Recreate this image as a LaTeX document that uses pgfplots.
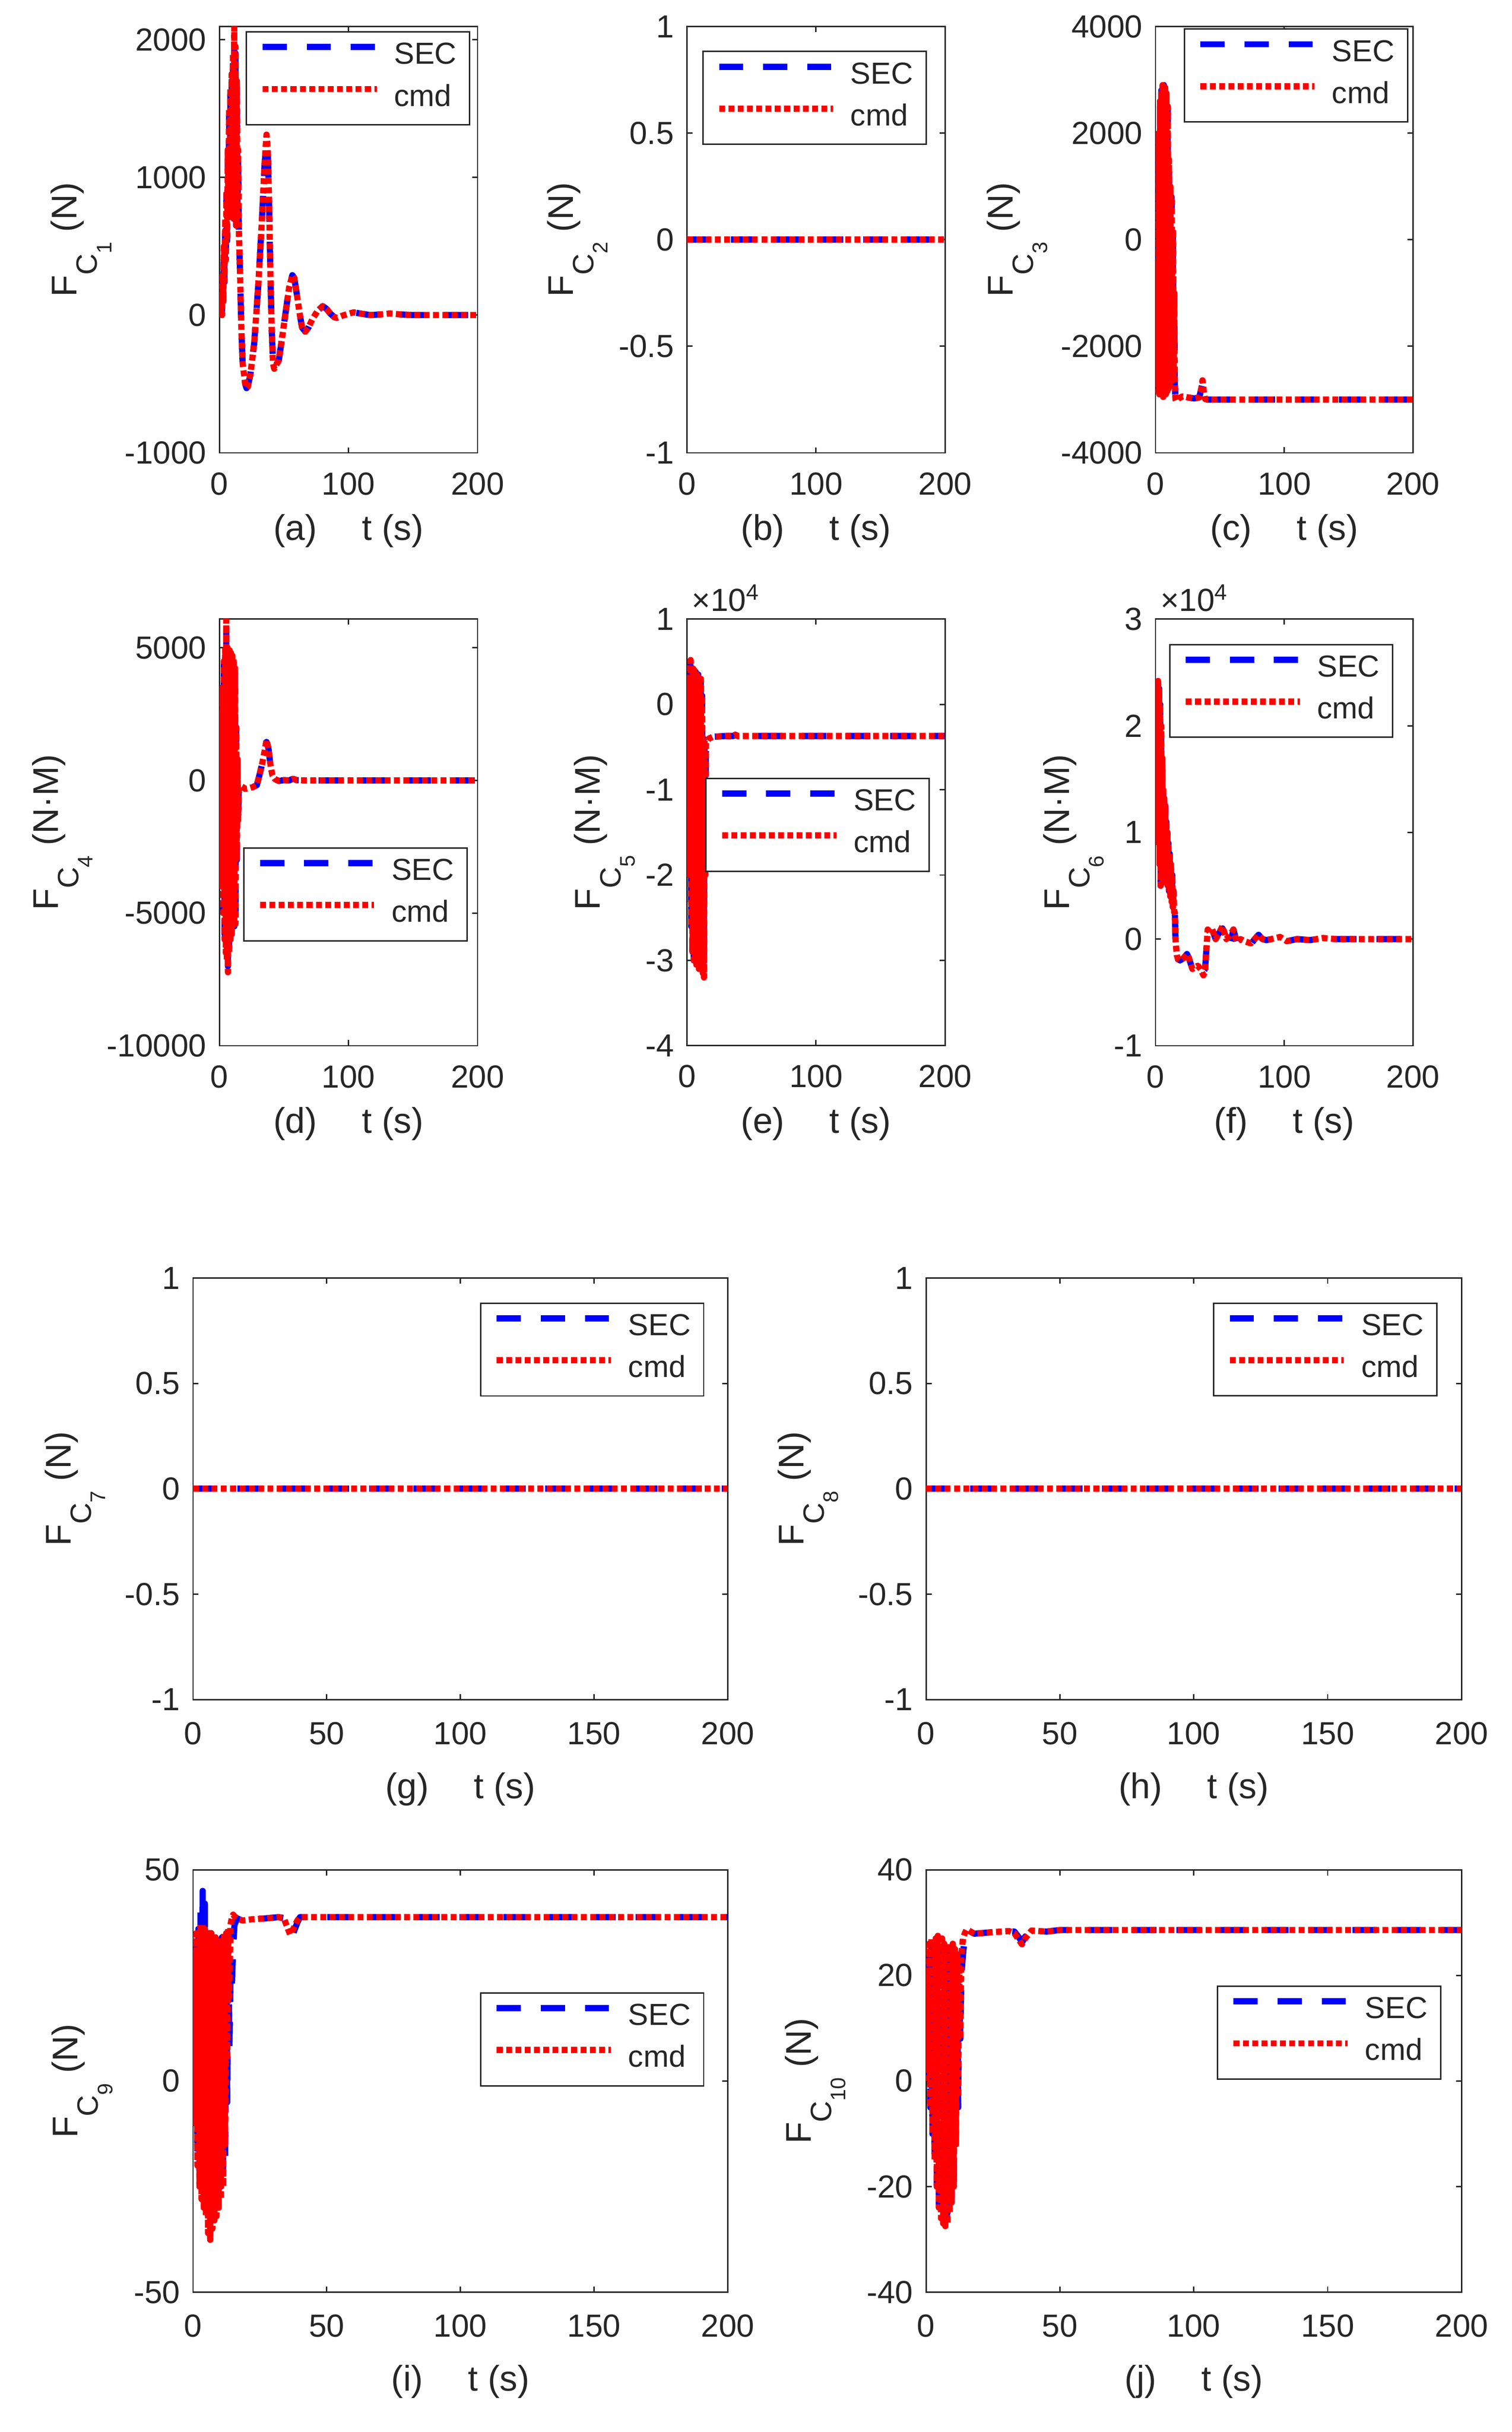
\documentclass[border=0pt]{standalone}
\usepackage{fontspec}
\setmainfont{Liberation Sans}
\usepackage{pgfplots}
\pgfplotsset{compat=1.18}
\usepackage{pgfplotstable}
\definecolor{axc}{rgb}{0.15,0.15,0.15}
\newcommand{\Fsub}[1]{F\raisebox{-6.6pt}{\fontsize{9.5}{9.5}\selectfont C\raisebox{-4.6pt}{\fontsize{6.8}{7}\selectfont #1}}}

\pgfplotstableread{
t sec cmd
0 0 0
0.5 60 80
1 20 20
1.5 140 150
2 10 0
2.5 280 300
3 100 100
3.5 480 500
4 240 250
4.5 680 700
5 380 400
5.5 880 900
6 540 550
6.5 1150 1200
7 690 700
7.5 1450 1500
8 880 900
8.5 1600 1650
9 800 800
9.5 1700 1750
10 900 900
10.5 1850 1900
11 700 700
11.5 1950 2090
12 800 800
12.5 1900 1950
13 650 650
13.5 1650 1700
14 700 700
14.5 1150 1200
15 650 650
16 300 300
17 -100 -100
18 -350 -350
20 -500 -500
21 -530 -530
22 -520 -520
24 -430 -430
27 -200 -200
30 200 200
33 700 700
35 1100 1100
36.5 1250 1310
37.5 1180 1200
38.5 800 800
39.5 300 300
40.5 -100 -100
41.5 -330 -350
42.5 -390 -390
44 -360 -360
46 -330 -330
48 -200 -200
51 0 0
54 200 200
56.5 290 290
58 270 270
60 150 150
62 20 20
64 -90 -90
66.5 -120 -120
69 -90 -90
72 -30 -30
76 30 30
80 65 65
83 45 45
86 10 10
89 -15 -15
91 -20 -20
95 -5 -5
100 10 10
104 20 20
110 10 10
117 0 0
125 5 5
132 12 12
140 5 5
150 0 0
200 0 0
}\tabA

\pgfplotstableread{
t sec cmd
0 0 0
200 0 0
}\tabZero

\pgfplotstableread{
t sec cmd
0 -2700 -2700
0.5 -500 -500
1 -2800 -2800
1.5 800 800
2 -2850 -2850
2.5 2000 2000
3 -2900 -2900
3.5 2600 2600
4 -2900 -2900
4.5 2800 2800
5 -2900 -2900
5.5 2850 2900
6 -2950 -2950
6.5 2900 2940
7 -2900 -2900
7.5 2850 2850
8 -2900 -2900
8.5 2750 2750
9 -2850 -2850
9.5 2500 2500
10 -2800 -2800
10.5 1500 1500
11 -2800 -2800
11.5 1000 1000
12 -2700 -2700
12.5 800 800
13 -2650 -2650
13.5 200 200
14 -2600 -2600
14.5 -1000 -1000
15 -2700 -2700
15.5 -3000 -3000
16 -3030 -3030
18 -2980 -2980
21 -2940 -2940
25 -2960 -2960
30 -2980 -2980
34 -2960 -2960
35.5 -2800 -2800
36.5 -2700 -2640
37.5 -2850 -2850
38.5 -2990 -2990
40 -3000 -3000
200 -3000 -3000
}\tabC

\pgfplotstableread{
t sec cmd
0 -1000 -1000
0.5 500 500
1 -2500 -2500
1.5 2500 2500
2 -4000 -4000
2.5 3500 3500
3 -5000 -5000
3.5 4500 4500
4 -5800 -6000
4.5 4900 5000
5 -6200 -6500
5.3 5900 6050
5.8 -6600 -6800
6.3 4900 5000
6.6 -7000 -7230
7 4800 4800
7.5 -6300 -6500
8 4900 4900
8.5 -6000 -6000
9 4800 4800
9.5 -5800 -5800
10 4700 4700
10.5 -5600 -5600
11 4600 4600
11.5 -5500 -5500
12 4300 4300
12.5 -5400 -5400
13 2000 2000
13.5 -3000 -3000
14 800 800
14.5 -1500 -1500
15 -400 -400
16 -200 -200
18 -250 -250
20 -320 -320
22.5 -300 -300
26 -250 -250
29 -180 -180
31 200 200
33 600 600
35 1100 1100
36.5 1450 1530
38 1200 1200
39.5 600 600
41 200 200
43 50 50
46 -20 -20
50 10 10
54 0 0
57 60 60
60 10 10
65 0 0
200 0 0
}\tabD

\pgfplotstableread{
t sec cmd
0 -0.5 -0.5
0.5 0.2 0.2
1 -1.2 -1.2
1.5 0.3 0.3
2 -2.0 -2.0
2.5 0.45 0.45
2.9 0.45 0.52
3.3 -2.6 -2.6
3.8 0.4 0.4
4.3 -2.9 -2.9
4.8 0.42 0.42
5.3 -3.0 -3.0
5.8 0.4 0.4
6.3 -3.0 -3.0
6.8 0.38 0.38
7.3 -3.05 -3.05
7.8 0.35 0.35
8.3 -3.05 -3.05
8.8 0.35 0.35
9.3 -3.05 -3.1
9.8 0.32 0.32
10.3 -3.05 -3.1
10.8 0.3 0.3
11.3 -3.05 -3.1
11.8 0.1 0.1
12.3 -3.05 -3.15
12.8 -0.4 -0.4
13.2 -3.05 -3.2
13.7 -0.42 -0.42
14.2 -2.0 -2.0
14.7 -0.45 -0.45
15.5 -0.44 -0.44
17 -0.4 -0.4
20 -0.38 -0.38
30 -0.37 -0.37
36 -0.37 -0.37
37.5 -0.355 -0.355
39 -0.37 -0.37
200 -0.37 -0.37
}\tabE

\pgfplotstableread{
t sec cmd
0 1.2 1.2
0.4 2.2 2.2
0.8 1.0 1.0
1.2 2.35 2.4
1.6 1.0 1.0
2 2.4 2.42
2.4 0.9 0.9
2.8 2.35 2.35
3.2 0.7 0.7
3.6 2.2 2.2
4 0.5 0.5
4.4 2.0 2.0
4.8 0.6 0.6
5.2 1.7 1.7
5.6 0.5 0.5
6 1.4 1.4
6.4 0.6 0.6
6.8 1.32 1.32
7.2 0.5 0.5
7.6 1.25 1.25
8 0.55 0.55
8.4 1.1 1.1
8.8 0.5 0.5
9.2 1.0 1.0
9.6 0.5 0.5
10 0.9 0.9
10.5 0.45 0.45
11 0.8 0.8
11.5 0.4 0.4
12 0.7 0.7
12.5 0.35 0.35
13 0.6 0.6
13.5 0.3 0.3
14 0.45 0.45
14.5 0.25 0.25
15 0.25 0.25
15.5 0.0 0.0
16.5 -0.15 -0.15
17.5 -0.19 -0.19
19 -0.2 -0.2
21.7 -0.18 -0.18
24.4 -0.14 -0.14
26 -0.18 -0.18
28.6 -0.28 -0.28
30 -0.27 -0.27
32.8 -0.25 -0.25
35 -0.28 -0.28
37.2 -0.3 -0.34
38.5 -0.28 -0.3
39.5 -0.1 -0.1
40.5 0.07 0.09
42 0.07 0.07
44 0.09 0.09
46.7 0.0 0.0
49 0.05 0.05
52 0.1 0.12
55 0.0 0.0
58 -0.05 0.04
60.5 0.09 0.09
63 -0.03 -0.03
66 0.0 0.0
69 -0.02 -0.02
74 -0.05 -0.04
77 0.0 0.0
80 0.04 0.04
83 0.0 0.0
86 -0.01 -0.01
90 0.0 0.0
96.7 0.02 0.02
102 -0.02 -0.02
110 0.0 0.0
120 -0.01 -0.01
130 0.01 0.01
140 0 0
200 0 0
}\tabF

\pgfplotstableread{
t sec cmd
0 -8 -5
0.4 30 30
0.8 -10 -10
1.2 35 35
1.6 -18 -20
2 36 36
2.4 -22 -25
2.8 40 37
3.2 -25 -28
3.6 45 37
4 -27 -30
4.4 42 36
4.8 -28 -32
5.2 36 36
5.6 -30 -36
6 35 35
6.4 -31 -37.6
6.8 35 35
7.2 -30 -35
7.6 34 34
8 -29 -33
8.4 34 34
8.8 -28 -32
9.2 33 33
9.6 -27 -30
10 33 33
10.4 -25 -28
10.8 34 34
11.2 -22 -25
11.6 35 35
12 -18 -15
12.4 33 35
12.8 -5 5
13.2 30 36
13.6 8 20
14 25 37
14.5 22 38.5
15 32 39.4
15.5 37 39
16.5 38.5 38.5
18.5 38 38
22 38.3 38.3
27 38.5 38.5
32 38.8 38.8
34 38.6 38.5
35.5 37 36
36.3 35.5 34.7
37.5 35 36
39 37.5 38
40 38.8 38.8
200 38.8 38.8
}\tabI

\pgfplotstableread{
t sec cmd
0 0 0
0.4 18 20
0.8 2 2
1.2 25 26
1.6 -5 -5
2 26 27
2.4 -10 -10
2.8 26 27
3.2 -15 -15
3.6 26 27
4 -20 -20
4.4 26 27.5
4.8 -24 -24
5.2 26 27
5.6 -25 -26
6 26 27
6.4 -25 -27
6.8 25 26
7.2 -26 -27.5
7.6 25 26
8 -25 -27
8.4 25 26
8.8 -24 -25
9.2 25 26
9.6 -22 -23
10 25 26
10.4 -18 -20
10.8 24 25
11.2 -10 -12
11.6 22 24
12 -5 -3
12.4 18 22
12.8 8 8
13.2 20 24
13.8 24 27
14.5 27.5 28
15.2 28.7 28.7
18 27.9 27.9
25 28.2 28.2
31 28.4 28.4
33 28.3 28
35 27 26.5
35.8 26.2 25.9
37 27.3 27
39.4 28.5 28.5
45 28.3 28.3
50 28.6 28.6
200 28.6 28.6
}\tabJ

\pgfplotsset{
  sec/.style={color=blue, line width=2pt, dash pattern=on 7.8pt off 6.4pt, line join=round},
  cmd/.style={color=red, line width=2pt, dash pattern=on 1.9pt off 1.1pt, line join=round},
  base/.style={
    scale only axis, anchor=north west,
    xmin=0, xmax=200,
    scaled ticks=false,
    axis line style={line width=0.45pt, draw=axc},
    tick style={line width=0.45pt, draw=axc},
    major tick length=1.8pt,
    tick align=inside,
    xtick pos=both, ytick pos=both,
    xticklabel pos=lower, yticklabel pos=left,
    tick label style={font=\fontsize{10.3}{12}\selectfont, text=axc},
    yticklabel style={anchor=east, inner sep=0pt, xshift=-4pt},
    label style={font=\fontsize{11.5}{13}\selectfont, text=axc, inner sep=0pt},
    legend style={draw=axc, line width=0.45pt, fill=white, inner xsep=4.2pt, inner ysep=3.2pt,
      row sep=3.5pt, font=\fontsize{9.8}{11}\selectfont, text=axc,
      nodes={inner sep=0pt, text height=7.2pt, text depth=2.8pt}, anchor=north east},
    legend cell align=left,
    legend image code/.code={\draw[##1] (0pt,3.3pt) -- (36.8pt,3.3pt); \path (41.4pt,3.3pt);},
  },
  topx/.style={xtick={0,100,200}, xticklabels={0,100,200},
    xticklabel style={anchor=base, inner sep=0pt, yshift=-13.5pt},
    xlabel style={at={([yshift=-28.2pt]axis description cs:0.5,0)}, anchor=base}},
  botx/.style={xtick={0,50,100,150,200}, xticklabels={0,50,100,150,200},
    xticklabel style={anchor=base, inner sep=0pt, yshift=-14.5pt},
    xlabel style={at={([yshift=-31.9pt]axis description cs:0.5,0)}, anchor=base}},
  unity/.style={ymin=-1, ymax=1, ytick={-1,-0.5,0,0.5,1}, yticklabels={-1,-0.5,0,0.5,1}},
}

\begin{document}
\begin{tikzpicture}
\path[use as bounding box] (0,0) rectangle (487.5pt,-784.1pt);

% (a)
\begin{axis}[base, topx, at={(70.75pt,-8.55pt)}, width=83.25pt, height=137.45pt,
  ymin=-1000, ymax=2095, ytick={-1000,0,1000,2000}, yticklabels={-1000,0,1000,2000},
  xlabel={(a)\hspace{14.5pt}t (s)}, ylabel={\Fsub{1} (N)},
  ylabel style={at={([xshift=-46pt]axis description cs:0,0.5)}, anchor=base},
  legend style={at={(0.972,0.989)}}]
\addplot[sec] table[x=t,y=sec]{\tabA};
\addplot[cmd] table[x=t,y=cmd]{\tabA};
\legend{SEC,cmd}
\end{axis}

% (b)
\begin{axis}[base, topx, unity, at={(221.5pt,-8.55pt)}, width=83.25pt, height=137.45pt,
  xlabel={(b)\hspace{14.5pt}t (s)}, ylabel={\Fsub{2} (N)},
  ylabel style={at={([xshift=-36.75pt]axis description cs:0,0.5)}, anchor=base},
  legend style={at={(0.929,0.943)}}]
\addplot[sec] table[x=t,y=sec]{\tabZero};
\addplot[cmd] table[x=t,y=cmd]{\tabZero};
\legend{SEC,cmd}
\end{axis}

% (c)
\begin{axis}[base, topx, at={(372.6pt,-8.55pt)}, width=83.05pt, height=137.45pt,
  ymin=-4000, ymax=4000, ytick={-4000,-2000,0,2000,4000}, yticklabels={-4000,-2000,0,2000,4000},
  xlabel={(c)\hspace{14.5pt}t (s)}, ylabel={\Fsub{3} (N)},
  ylabel style={at={([xshift=-46.1pt]axis description cs:0,0.5)}, anchor=base},
  legend style={at={(0.981,0.9956)}}]
\addplot[sec] table[x=t,y=sec]{\tabC};
\addplot[cmd] table[x=t,y=cmd]{\tabC};
\legend{SEC,cmd}
\end{axis}

% (d)
\begin{axis}[base, topx, at={(70.75pt,-199.6pt)}, width=83.25pt, height=137.55pt,
  ymin=-10000, ymax=6080, ytick={-10000,-5000,0,5000}, yticklabels={-10000,-5000,0,5000},
  xlabel={(d)\hspace{14.5pt}t (s)}, ylabel={\Fsub{4} (N·M)},
  ylabel style={at={([xshift=-52pt]axis description cs:0,0.5)}, anchor=base},
  legend style={at={(0.962,0.465)}}]
\addplot[sec] table[x=t,y=sec]{\tabD};
\addplot[cmd] table[x=t,y=cmd]{\tabD};
\legend{SEC,cmd}
\end{axis}

% (e)
\begin{axis}[base, topx, name=axE, at={(221.5pt,-199.6pt)}, width=83.25pt, height=137.55pt,
  ymin=-4, ymax=1, ytick={-4,-3,-2,-1,0,1}, yticklabels={-4,-3,-2,-1,0,1},
  xlabel={(e)\hspace{14.5pt}t (s)}, ylabel={\Fsub{5} (N·M)},
  ylabel style={at={([xshift=-28pt]axis description cs:0,0.5)}, anchor=base},
  legend style={at={(0.941,0.628)}}]
\addplot[sec] table[x=t,y=sec]{\tabE};
\addplot[cmd] table[x=t,y=cmd]{\tabE};
\legend{SEC,cmd}
\end{axis}
\node[anchor=base west, inner sep=0pt, font=\fontsize{10.3}{12}\selectfont, text=axc]
  at ([xshift=1.4pt,yshift=2.6pt]axE.north west) {\texttimes10\textsuperscript{4}};

% (f)
\begin{axis}[base, topx, name=axF, at={(372.6pt,-199.6pt)}, width=83.05pt, height=137.55pt,
  ymin=-1, ymax=3, ytick={-1,0,1,2,3}, yticklabels={-1,0,1,2,3},
  xlabel={(f)\hspace{14.5pt}t (s)}, ylabel={\Fsub{6} (N·M)},
  ylabel style={at={([xshift=-27.9pt]axis description cs:0,0.5)}, anchor=base},
  legend style={at={(0.924,0.942)}}]
\addplot[sec] table[x=t,y=sec]{\tabF};
\addplot[cmd] table[x=t,y=cmd]{\tabF};
\legend{SEC,cmd}
\end{axis}
\node[anchor=base west, inner sep=0pt, font=\fontsize{10.3}{12}\selectfont, text=axc]
  at ([xshift=1.4pt,yshift=2.6pt]axF.north west) {\texttimes10\textsuperscript{4}};

% (g)
\begin{axis}[base, botx, unity, at={(62.25pt,-412.05pt)}, width=172.4pt, height=135.9pt,
  xlabel={(g)\hspace{14.5pt}t (s)}, ylabel={\Fsub{7} (N)},
  ylabel style={at={([xshift=-39.5pt]axis description cs:0,0.5)}, anchor=base},
  legend style={at={(0.9565,0.942)}}]
\addplot[sec] table[x=t,y=sec]{\tabZero};
\addplot[cmd] table[x=t,y=cmd]{\tabZero};
\legend{SEC,cmd}
\end{axis}

% (h)
\begin{axis}[base, botx, unity, at={(298.6pt,-412.05pt)}, width=172.7pt, height=135.9pt,
  xlabel={(h)\hspace{14.5pt}t (s)}, ylabel={\Fsub{8} (N)},
  ylabel style={at={([xshift=-39.5pt]axis description cs:0,0.5)}, anchor=base},
  legend style={at={(0.955,0.942)}}]
\addplot[sec] table[x=t,y=sec]{\tabZero};
\addplot[cmd] table[x=t,y=cmd]{\tabZero};
\legend{SEC,cmd}
\end{axis}

% (i)
\begin{axis}[base, botx, at={(62.25pt,-602.85pt)}, width=172.4pt, height=136.15pt,
  ymin=-50, ymax=50, ytick={-50,0,50}, yticklabels={-50,0,50},
  xlabel={(i)\hspace{14.5pt}t (s)}, ylabel={\Fsub{9} (N)},
  ylabel style={at={([xshift=-37.2pt]axis description cs:0,0.5)}, anchor=base},
  legend style={at={(0.9565,0.710)}}]
\addplot[sec] table[x=t,y=sec]{\tabI};
\addplot[cmd] table[x=t,y=cmd]{\tabI};
\legend{SEC,cmd}
\end{axis}

% (j)
\begin{axis}[base, botx, at={(298.6pt,-602.85pt)}, width=172.7pt, height=136.15pt,
  ymin=-40, ymax=40, ytick={-40,-20,0,20,40}, yticklabels={-40,-20,0,20,40},
  xlabel={(j)\hspace{14.5pt}t (s)}, ylabel={\Fsub{10} (N)},
  ylabel style={at={([xshift=-37.1pt]axis description cs:0,0.5)}, anchor=base},
  legend style={at={(0.962,0.726)}}]
\addplot[sec] table[x=t,y=sec]{\tabJ};
\addplot[cmd] table[x=t,y=cmd]{\tabJ};
\legend{SEC,cmd}
\end{axis}

\end{tikzpicture}
\end{document}
